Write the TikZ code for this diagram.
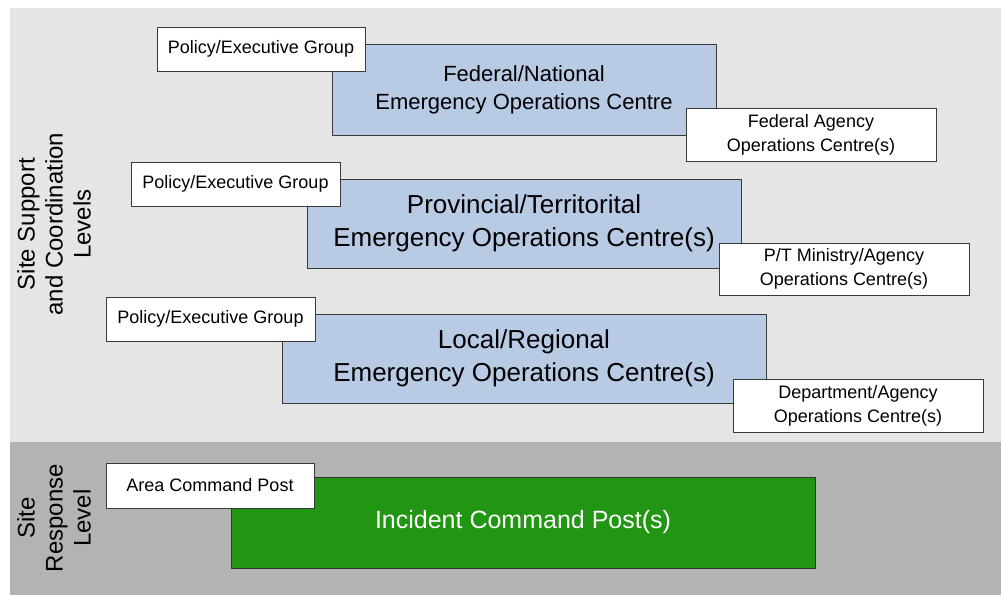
\documentclass[tikz,border=0pt]{standalone}
\usepackage{fontspec}
\setmainfont{Liberation Sans}
\definecolor{bandlight}{HTML}{E5E5E5}
\definecolor{banddark}{HTML}{B3B3B3}
\definecolor{eocblue}{HTML}{B8CAE4}
\definecolor{icpgreen}{HTML}{219613}
\definecolor{boxline}{HTML}{3A3A3A}
\begin{document}
\begin{tikzpicture}[x=1pt,y=-1pt,
  box/.style={draw=boxline, line width=1pt, inner sep=0pt, outer sep=0pt,
    anchor=north west, align=center},
  tag/.style={box, fill=white, font=\fontsize{18}{24}\selectfont},
  eocsmall/.style={box, fill=eocblue, font=\fontsize{22}{28}\selectfont},
  eoc/.style={box, fill=eocblue, font=\fontsize{26}{33}\selectfont},
  icp/.style={box, fill=icpgreen, draw=black!80, text=white, font=\fontsize{25}{30}\selectfont},
  side/.style={rotate=90, align=center, inner sep=0pt, font=\fontsize{24}{28}\selectfont}]

  % canvas and the two level bands
  \useasboundingbox (0,0) rectangle (1004,595);
  \fill[bandlight] (10,8) rectangle (1001,442);
  \fill[banddark] (10,442) rectangle (1001,595);

  % federal level
  \node[eocsmall, minimum width=384pt, minimum height=91pt] (fedeoc) at (332,44)
    {Federal/National\\Emergency Operations Centre};
  \node[tag, minimum width=208pt, minimum height=44pt] (fedpeg) at (157,27)
    {Policy/Executive Group};
  \node[tag, minimum width=250pt, minimum height=53pt] (fedagency) at (686,108)
    {Federal Agency\\Operations Centre(s)};

  % provincial / territorial level
  \node[eoc, minimum width=434pt, minimum height=89pt] (pteoc) at (307,179)
    {Provincial/Territorital\\Emergency Operations Centre(s)};
  \node[tag, minimum width=209pt, minimum height=44pt] (ptpeg) at (131,162)
    {Policy/Executive Group};
  \node[tag, minimum width=250pt, minimum height=52pt] (ptministry) at (719,243)
    {P/T Ministry/Agency\\Operations Centre(s)};

  % local / regional level
  \node[eoc, minimum width=484pt, minimum height=89pt] (loceoc) at (282,314)
    {Local/Regional\\Emergency Operations Centre(s)};
  \node[tag, minimum width=209pt, minimum height=44pt] (locpeg) at (106,297)
    {Policy/Executive Group};
  \node[tag, minimum width=250pt, minimum height=53pt] (locdept) at (733,379)
    {Department/Agency\\Operations Centre(s)};

  % site response level
  \node[icp, minimum width=584pt, minimum height=91pt] (icp) at (231,477)
    {Incident Command Post(s)};
  \node[tag, minimum width=208pt, minimum height=45pt] (acp) at (106,463)
    {Area Command Post};

  % level captions
  \node[side] (supportcap) at (54,224) {Site Support\\and Coordination\\Levels};
  \node[side] (responsecap) at (54,518) {Site\\Response\\Level};
\end{tikzpicture}
\end{document}
